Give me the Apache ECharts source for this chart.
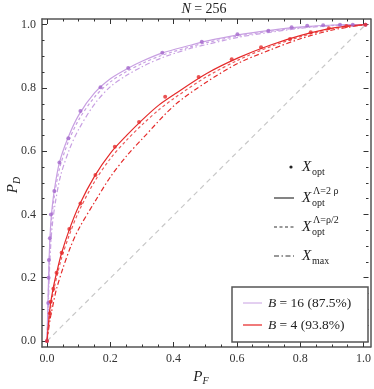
<!DOCTYPE html>
<html>
<head>
<meta charset="utf-8">
<script src="https://cdn.jsdelivr.net/npm/echarts@6/dist/echarts.min.js"></script>
<style>
  html, body { margin: 0; padding: 0; background: #fff; }
  #chart { width: 374px; height: 389px; }
</style>
</head>
<body>
<div id="chart"></div>
<script>
// axis range of the ticks
const tickMin = 0
const tickMax = 1
const tickStep = 0.2

// B = 16 (purple)
const purpleOpt = [[0, 0], [0.004, 0.12], [0.005, 0.2], [0.006, 0.256], [0.009, 0.325], [0.0125, 0.40],
  [0.023, 0.474], [0.039, 0.564], [0.067, 0.641], [0.105, 0.727], [0.168, 0.802], [0.255, 0.863],
  [0.362, 0.911], [0.486, 0.946], [0.598, 0.970], [0.695, 0.981], [0.768, 0.992], [0.817, 0.997],
  [0.867, 0.998], [0.92, 1.0], [0.96, 1.0], [1, 1]]
const purpleSolid = [[0, 0], [0.003, 0.12], [0.005, 0.2], [0.007, 0.27], [0.01, 0.34], [0.014, 0.40],
  [0.022, 0.47], [0.038, 0.56], [0.065, 0.64], [0.1, 0.715], [0.15, 0.785], [0.2, 0.83], [0.25, 0.86],
  [0.3, 0.885], [0.36, 0.91], [0.45, 0.935], [0.5, 0.948], [0.6, 0.968], [0.7, 0.982], [0.8, 0.993],
  [0.9, 0.999], [1, 1]]
const purpleDashed = [[0, 0], [0.003, 0.1], [0.005, 0.18], [0.007, 0.25], [0.01, 0.32], [0.014, 0.38],
  [0.022, 0.45], [0.038, 0.54], [0.065, 0.625], [0.1, 0.7], [0.15, 0.772], [0.2, 0.82], [0.25, 0.852],
  [0.3, 0.878], [0.36, 0.903], [0.45, 0.93], [0.5, 0.943], [0.6, 0.964], [0.7, 0.979], [0.8, 0.991],
  [0.9, 0.998], [1, 1]]
const purpleMax = [[0, 0], [0.004, 0.1], [0.006, 0.17], [0.008, 0.23], [0.011, 0.29], [0.016, 0.36],
  [0.025, 0.43], [0.042, 0.52], [0.07, 0.605], [0.1, 0.67], [0.15, 0.75], [0.2, 0.805], [0.25, 0.84],
  [0.3, 0.868], [0.36, 0.895], [0.45, 0.925], [0.5, 0.937], [0.6, 0.96], [0.7, 0.976], [0.8, 0.989],
  [0.9, 0.997], [1, 1]]

// B = 4 (red)
const redOpt = [[0, 0], [0.009, 0.088], [0.0115, 0.124], [0.020, 0.165], [0.030, 0.216], [0.046, 0.279],
  [0.070, 0.354], [0.105, 0.435], [0.152, 0.525], [0.213, 0.614], [0.289, 0.692], [0.371, 0.772],
  [0.476, 0.835], [0.58, 0.891], [0.672, 0.929], [0.763, 0.955], [0.828, 0.976], [0.885, 0.989],
  [0.94, 0.996], [1, 1]]
const redSolid = [[0, 0], [0.005, 0.06], [0.01, 0.11], [0.02, 0.17], [0.03, 0.215], [0.045, 0.275],
  [0.07, 0.352], [0.1, 0.427], [0.15, 0.522], [0.2, 0.595], [0.25, 0.65], [0.3, 0.7], [0.35, 0.745],
  [0.4, 0.78], [0.5, 0.845], [0.6, 0.895], [0.7, 0.935], [0.8, 0.967], [0.9, 0.99], [1, 1]]
const redDashed = [[0, 0], [0.005, 0.05], [0.01, 0.095], [0.02, 0.155], [0.03, 0.2], [0.045, 0.26],
  [0.07, 0.335], [0.1, 0.41], [0.15, 0.505], [0.2, 0.578], [0.25, 0.635], [0.3, 0.685], [0.35, 0.73],
  [0.4, 0.768], [0.5, 0.835], [0.6, 0.888], [0.7, 0.93], [0.8, 0.963], [0.9, 0.988], [1, 1]]
const redMax = [[0, 0], [0.01, 0.07], [0.02, 0.12], [0.03, 0.165], [0.05, 0.23], [0.075, 0.3],
  [0.1, 0.355], [0.15, 0.44], [0.2, 0.52], [0.25, 0.585], [0.3, 0.64], [0.4, 0.745], [0.5, 0.818],
  [0.6, 0.878], [0.7, 0.92], [0.8, 0.957], [0.9, 0.984], [1, 1]]

const diagonal = [[0, 0], [1, 1]]

const PURPLE_LINE = '#c8a0e2'
const PURPLE_DOT = '#a468cc'
const RED = '#e52a2a'
const FRAME = '#555'
const SERIF = '"Liberation Serif", "DejaVu Serif", serif'

const chart = echarts.init(document.getElementById('chart'))

// grid 0: the frame (padded range), grid 1: the 0..1 box that carries ticks and labels
function frameAxis(kind, pos) {
  return {
    type: 'value',
    gridIndex: 0,
    position: pos,
    min: kind === 'x' ? -0.0157 : -0.019,
    max: kind === 'x' ? 1.0157 : 1.018,
    splitLine: { show: false },
    axisLine: { show: true, onZero: false, lineStyle: { color: FRAME, width: 1.5 } },
    axisTick: { show: false },
    axisLabel: { show: false }
  }
}

function tickAxis(pos, offset, withLabel) {
  return {
    type: 'value',
    gridIndex: 1,
    position: pos,
    offset: offset,
    min: tickMin,
    max: tickMax,
    interval: tickStep,
    splitLine: { show: false },
    axisLine: { show: false, onZero: false },
    axisTick: { show: true, inside: true, length: 5, lineStyle: { color: '#333', width: 1 } },
    minorTick: { show: true, splitNumber: 4, length: 2.5, lineStyle: { color: '#333', width: 1 } },
    axisLabel: {
      show: withLabel,
      formatter: v => v.toFixed(1),
      fontFamily: SERIF,
      fontSize: 12,
      color: '#333',
      margin: 6
    }
  }
}

function line(data, color, type, width) {
  return {
    type: 'line',
    data: data,
    showSymbol: false,
    symbol: 'none',
    smooth: 0.3,
    silent: true,
    xAxisIndex: 0,
    yAxisIndex: 0,
    lineStyle: { color: color, type: type, width: width || 1.2 },
    z: 3
  }
}

function dots(data, color) {
  return {
    type: 'scatter',
    data: data,
    symbolSize: 4,
    silent: true,
    xAxisIndex: 0,
    yAxisIndex: 0,
    itemStyle: { color: color },
    z: 4
  }
}

// legend text pieces
const legX = 302
const legRows = [167, 198, 227, 256]
const sampleDash = [null, null, [3, 2.5], [5, 2.5, 1.5, 2.5]]

const graphics = []
graphics.push({ type: 'circle', shape: { cx: 291, cy: legRows[0], r: 1.6 }, style: { fill: '#222' } })
for (let i = 1; i < 4; i++) {
  graphics.push({
    type: 'line',
    shape: { x1: 274, y1: legRows[i], x2: 294, y2: legRows[i] },
    style: { stroke: '#333', lineWidth: 1.2, lineDash: sampleDash[i] }
  })
}
function mathX(y, sub, sup) {
  graphics.push({ type: 'text', x: legX, y: y, style: { text: 'X', font: 'italic 15px ' + SERIF, fill: '#222', verticalAlign: 'middle' } })
  graphics.push({ type: 'text', x: legX + 10, y: y + 5, style: { text: sub, font: '10px ' + SERIF, fill: '#222', verticalAlign: 'middle' } })
  if (sup) {
    graphics.push({ type: 'text', x: legX + 11, y: y - 7, style: { text: sup, font: '10px ' + SERIF, fill: '#222', verticalAlign: 'middle' } })
  }
}
mathX(legRows[0], 'opt')
mathX(legRows[1], 'opt', 'Λ=2 ρ')
mathX(legRows[2], 'opt', 'Λ=ρ/2')
mathX(legRows[3], 'max')

// B legend box
graphics.push({
  type: 'rect',
  shape: { x: 232, y: 287, width: 136, height: 55 },
  style: { fill: '#fff', stroke: FRAME, lineWidth: 1.5 },
  z: 10
})
graphics.push({ type: 'line', shape: { x1: 243, y1: 303, x2: 262, y2: 303 }, style: { stroke: PURPLE_LINE, lineWidth: 1 }, z: 11 })
graphics.push({ type: 'line', shape: { x1: 243, y1: 325, x2: 262, y2: 325 }, style: { stroke: '#f07a7a', lineWidth: 2 }, z: 11 })
graphics.push({
  type: 'text', x: 268, y: 303, z: 11,
  style: { text: '{i|B} = 16 (87.5%)', rich: { i: { font: 'italic 13.5px ' + SERIF } }, font: '13.5px ' + SERIF, fill: '#222', verticalAlign: 'middle' }
})
graphics.push({
  type: 'text', x: 268, y: 325, z: 11,
  style: { text: '{i|B} = 4 (93.8%)', rich: { i: { font: 'italic 13.5px ' + SERIF } }, font: '13.5px ' + SERIF, fill: '#222', verticalAlign: 'middle' }
})
// axis titles
graphics.push({
  type: 'text', x: 204, y: 9,
  style: { text: '{i|N} = 256', rich: { i: { font: 'italic 14px ' + SERIF } }, font: '14px ' + SERIF, fill: '#222', align: 'center', verticalAlign: 'middle' }
})
graphics.push({
  type: 'text', x: 201, y: 377,
  style: { text: '{i|P}{s|F}', rich: { i: { font: 'italic 15px ' + SERIF }, s: { font: 'italic 10px ' + SERIF, padding: [8, 0, 0, 0] } }, fill: '#222', align: 'center', verticalAlign: 'middle' }
})
graphics.push({
  type: 'text', x: 13, y: 185, rotation: Math.PI / 2,
  style: { text: '{i|P}{s|D}', rich: { i: { font: 'italic 15px ' + SERIF }, s: { font: 'italic 10px ' + SERIF, padding: [8, 0, 0, 0] } }, fill: '#222', align: 'center', verticalAlign: 'middle' }
})

chart.setOption({
  animation: false,
  grid: [
    { left: 42, right: 3.5, top: 19, bottom: 42 },
    { left: 47, right: 8.5, top: 24.7, bottom: 48 }
  ],
  xAxis: [
    frameAxis('x', 'bottom'),
    frameAxis('x', 'top'),
    tickAxis('bottom', 6, true),
    tickAxis('top', 5.7, false)
  ].map((a, i) => i >= 2 ? Object.assign(a, { gridIndex: 1 }) : a),
  yAxis: [
    frameAxis('y', 'left'),
    frameAxis('y', 'right'),
    tickAxis('left', 5, true),
    tickAxis('right', 5, false)
  ],
  series: [
    line(diagonal, '#c8c8c8', [5, 4], 1.2),
    line(purpleMax, PURPLE_LINE, [5, 2.5, 1.5, 2.5]),
    line(purpleDashed, PURPLE_LINE, [3, 2.5]),
    line(purpleSolid, PURPLE_LINE, 'solid'),
    dots(purpleOpt, PURPLE_DOT),
    line(redMax, RED, [5, 2.5, 1.5, 2.5]),
    line(redDashed, '#ec5a5a', [3, 2.5]),
    line(redSolid, RED, 'solid'),
    dots(redOpt, RED)
  ],
  graphic: graphics
})
</script>
</body>
</html>
